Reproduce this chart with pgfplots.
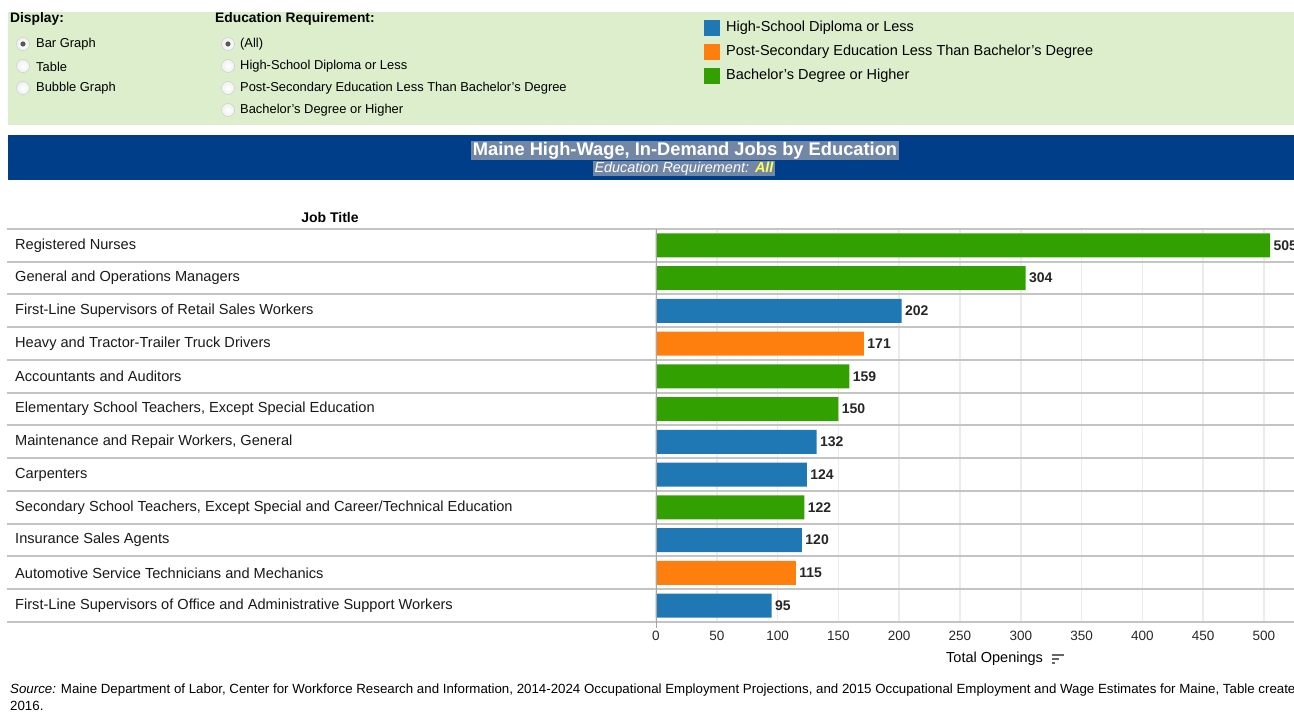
\documentclass[border=0pt]{standalone}
\usepackage{pgfplots}
\pgfplotsset{compat=1.18}
\usepackage{fontspec}
\setmainfont{Liberation Sans}
\definecolor{tabBlue}{RGB}{31,119,180}
\definecolor{tabOrange}{RGB}{255,127,14}
\definecolor{tabGreen}{RGB}{50,160,0}
\definecolor{panelGreen}{RGB}{220,238,203}
\definecolor{bannerBlue}{RGB}{0,62,138}
\definecolor{selGray}{RGB}{114,134,166}
\definecolor{rowLine}{RGB}{196,196,196}
\definecolor{gridGray}{RGB}{236,236,236}
\definecolor{allYellow}{RGB}{255,255,90}
\newcommand\fs[1]{\fontsize{#1}{#1}\selectfont}
% radio button: x, pixel y, selected (1/0)
\newcommand\radio[3]{%
  \shade[inner color=white, outer color=black!6, draw=black!22] (#1,717-#2) circle (6.5);
  \ifnum#3=1 \fill[black!65] (#1,717-#2) circle (2.6);\fi}

\begin{document}
\begin{tikzpicture}[x=1pt,y=1pt]
\useasboundingbox (0,0) rectangle (1294,717);
\clip (0,0) rectangle (1294,717);

% control panel
\fill[panelGreen] (8,705) rectangle (1294,592);
\node[anchor=west, inner sep=0, font=\bfseries\fs{13.8}] at (10,717-18.5) {Display:};
\node[anchor=west, inner sep=0, font=\bfseries\fs{13.8}] at (215,717-18.5) {Education Requirement:};
\radio{23}{44}{1} \radio{23}{66}{0} \radio{23}{88}{0}
\radio{228}{44}{1} \radio{228}{66}{0} \radio{228}{88}{0} \radio{228}{110}{0}
\begin{scope}[every node/.style={anchor=west, inner sep=0, font=\fs{12.9}}]
\node at (36,717-44.5) {Bar Graph};
\node at (36,717-66.5) {Table};
\node at (36,717-88.5) {Bubble Graph};
\node at (240,717-44.5) {(All)};
\node at (240,717-66.5) {High-School Diploma or Less};
\node at (240,717-88.5) {Post-Secondary Education Less Than Bachelor's Degree};
\node at (240,717-110.5) {Bachelor's Degree or Higher};
\end{scope}

% title banner
\fill[bannerBlue] (8,582) rectangle (1294,537);
\node[fill=selGray, text=white, font=\bfseries\fs{18.3}, inner xsep=1.5pt, inner ysep=1.2pt] at (685,717-150.5) {Maine High-Wage, In-Demand Jobs by Education};
\node[fill=selGray, text=white, font=\itshape\fs{14.4}, inner xsep=1.5pt, inner ysep=0.3pt] at (684,717-168.5) {Education Requirement:\hspace{6pt}\textcolor{allYellow}{\bfseries All}};

\node[font=\bfseries\fs{14}] at (330,717-218) {Job Title};

\begin{axis}[
    at={(656pt,95pt)}, anchor=south west,
    scale only axis, width=638pt, height=393pt,
    xbar, bar width=24pt,
    xmin=0, xmax=524.7,
    ymin=-0.5, ymax=11.5, y dir=reverse,
    axis line style={draw=none},
    major tick length=0pt,
    xtick={0,50,...,500},
    xmajorgrids, grid style={gridGray, line width=1.6pt},
    ytick={0,...,11},
    yticklabels={Registered Nurses, General and Operations Managers,
      First-Line Supervisors of Retail Sales Workers,
      Heavy and Tractor-Trailer Truck Drivers, Accountants and Auditors,
      {Elementary School Teachers, Except Special Education},
      {Maintenance and Repair Workers, General}, Carpenters,
      {Secondary School Teachers, Except Special and Career/Technical Education},
      Insurance Sales Agents, Automotive Service Technicians and Mechanics,
      First-Line Supervisors of Office and Administrative Support Workers},
    yticklabel style={anchor=west, inner sep=0pt, xshift=-641pt, font=\fs{14.6}, text=black!90},
    xticklabel style={font=\fs{13.5}, text=black!85, yshift=-5.5pt},
    /pgf/number format/assume math mode=true,
    point meta=x,
    nodes near coords,
    nodes near coords style={font=\bfseries\fs{14}, text=black!85},
    legend style={at={(0.0752,1.532)}, anchor=north west, draw=none, fill=none,
      font=\fs{14.5}, row sep=8pt, inner sep=0pt, nodes={inner sep=0pt, text height=10pt, text depth=3pt}},
    legend cell align=left,
    legend image code/.code={\fill[#1, draw=none] (0pt,-8pt) rectangle (16pt,8pt);\path (22pt,0pt);},
]
\addplot[fill=tabBlue, draw=none, bar shift=0pt] coordinates {(202,2) (132,6) (124,7) (120,9) (95,11)};
\addlegendentry{High-School Diploma or Less}
\addplot[fill=tabOrange, draw=none, bar shift=0pt] coordinates {(171,3) (115,10)};
\addlegendentry{Post-Secondary Education Less Than Bachelor's Degree}
\addplot[fill=tabGreen, draw=none, bar shift=0pt] coordinates {(505,0) (304,1) (159,4) (150,5) (122,8)};
\addlegendentry{Bachelor's Degree or Higher}
\end{axis}

% row separators and value axis line
\foreach \k in {0,...,12}
  \draw[rowLine, line width=1.3pt] (7,{round(488-32.75*\k)}) -- (1294,{round(488-32.75*\k)});
\draw[black!35, line width=1pt] (656,488) -- (656,89);

\node[anchor=west, inner sep=0, font=\fs{14.5}] at (946,717-658.5) {Total Openings};
\draw[black!60, line width=1.4pt] (1052,717-655) -- (1064,717-655)
  (1052,717-659) -- (1059,717-659) (1052,717-663) -- (1055,717-663);

\node[anchor=base west, inner sep=0, font=\fs{13.3}] at (10,717-694) {\textit{Source:} Maine Department of Labor, Center for Workforce Research and Information, 2014-2024 Occupational Employment Projections, and 2015 Occupational Employment and Wage Estimates for Maine, Table created};
\node[anchor=base west, inner sep=0, font=\fs{13.3}] at (10,717-711) {2016.};
\end{tikzpicture}
\end{document}
